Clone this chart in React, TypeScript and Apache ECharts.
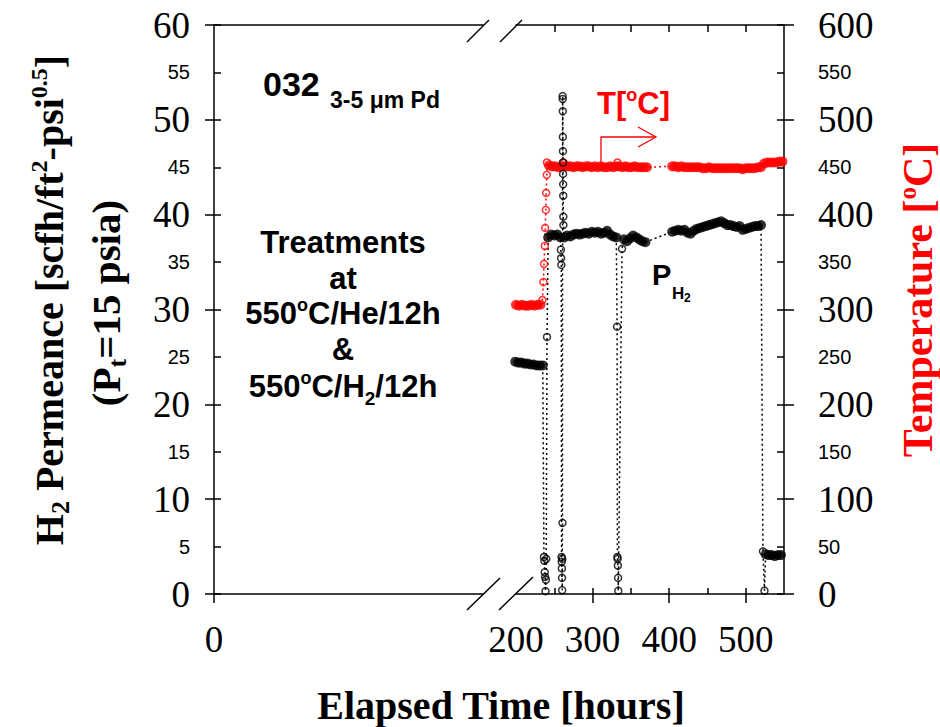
import React, { useEffect, useRef } from "react";
import * as echarts from "echarts";

// ---------------- data ----------------
// H2 permeance, steady readings: elapsed time [h] and permeance [scfh/ft2-psi^0.5]
const h2SteadyHours = [
  199, 203, 207, 211, 215, 219, 223, 227, 231, 235,
  242, 246, 250, 254, 258,
  263, 267, 271, 275, 279, 283, 287, 291, 295, 299, 303, 307, 311, 315, 319, 323, 327, 331,
  341, 345, 349, 353, 357, 361, 365, 369,
  404, 408, 412, 416, 420, 424, 428, 432, 436, 440, 444, 448, 452, 456, 460, 464, 468, 472, 476, 480,
  484, 488, 492, 496, 500, 504, 508, 512, 516, 520,
  526, 530, 534, 538, 542, 546,
];
const h2SteadyPerm = [
  24.5, 24.4, 24.4, 24.3, 24.3, 24.2, 24.2, 24.1, 24.1, 24.1,
  37.6, 37.9, 37.8, 37.9, 37.6,
  37.6, 37.8, 37.7, 37.9, 38.0, 37.9, 38.0, 38.1, 38.0, 38.2, 38.1, 38.2, 38.0, 38.1, 38.3, 37.9, 37.7, 37.6,
  37.4, 37.2, 37.5, 37.8, 37.6, 37.4, 37.2, 37.1,
  38.2, 38.3, 38.4, 38.3, 38.4, 38.1, 38.0, 38.3, 38.5, 38.6, 38.7, 38.8, 38.9, 39.0, 39.1, 39.2, 39.3, 39.1, 38.9, 38.9,
  38.8, 38.7, 38.8, 38.4, 38.5, 38.6, 38.7, 38.8, 38.8, 38.9,
  4.2, 4.1, 4.1, 4.0, 4.1, 4.1,
];
// H2 permeance, transient readings (shut-downs and restarts)
const h2TransHours = [
  236.5, 237, 237.5, 238, 238.5, 239, 239.5, 240.5,
  258.6, 258.9, 259.2, 259.5, 259.7, 259.9, 260.1, 260.3, 260.5, 260.7,
  260.9, 261.0, 261.1, 261.2, 261.3, 261.4, 261.5, 261.6, 261.7, 261.8, 261.9,
  332, 332.4, 332.7, 333, 333.3, 333.6, 338.5,
  522.5, 524.5,
];
const h2TransPerm = [
  3.9, 3.5, 2.3, 1.8, 0.3, 1.5, 3.7, 27.1,
  36.3, 35.4, 34.7, 3.9, 3.4, 2.7, 1.7, 0.4, 3.7, 7.5,
  52.5, 52.2, 50.9, 48.2, 46.7, 45.5, 44.3, 43.2, 42.0, 39.8, 38.9,
  28.2, 3.9, 3.7, 3.0, 1.7, 0.35, 36.4,
  4.5, 0.35,
];
// Temperature, steady readings: elapsed time [h] and T [°C]
const tSteadyHours = [
  200, 204, 208, 212, 216, 220, 224, 228, 232,
  243, 247, 251, 255, 259, 263, 267, 271, 275, 279, 283, 287, 291, 295, 299, 303, 307, 311, 315, 319,
  323, 327, 331, 335, 339, 343, 347, 351, 355, 359, 363, 367, 371,
  404, 408, 412, 416, 420, 424, 428, 432, 436, 440, 444, 448, 452, 456, 460, 464, 468, 472, 476, 480,
  484, 488, 492, 496, 500, 504, 508, 512, 516, 520,
  524, 528, 532, 536, 540, 544, 548,
];
const tSteadyTemp = [
  305, 304, 305, 304, 304, 305, 304, 305, 305,
  452, 451, 451, 450, 451, 451, 451, 451, 450, 451, 451, 450, 451, 451, 450, 451, 450, 451, 450, 450,
  451, 450, 451, 451, 450, 451, 450, 450, 451, 450, 450, 450, 450,
  451, 451, 450, 451, 450, 450, 450, 450, 450, 450, 449, 449, 450, 449, 449, 449, 449, 449, 449, 449,
  449, 449, 449, 448, 449, 449, 449, 449, 450, 450,
  454, 455, 455, 455, 455, 456, 456,
];
// Temperature, transient readings (heating ramp and spikes)
const tTransHours = [234.5, 235.8, 236.6, 237.6, 238.1, 239, 239.3, 240.2, 240.4, 262, 332.5];
const tTransTemp = [310, 329, 348, 367, 386, 405, 423, 442, 455, 455, 455];

// tick labels
const xLabelsLeft = [0];
const xLabelsRight = [200, 300, 400, 500];
const xTicksMinor = [250, 300, 350, 400, 450, 500];
const xTicksMajor = [300, 400, 500];
const yLeftLabels = [0, 5, 10, 15, 20, 25, 30, 35, 40, 45, 50, 55, 60];
const yLeftMajor = [0, 10, 20, 30, 40, 50, 60];
const yRightLabels = [0, 50, 100, 150, 200, 250, 300, 350, 400, 450, 500, 550, 600];
const yRightMajor = [0, 100, 200, 300, 400, 500, 600];

const pairs = (hs: number[], vs: number[]) => hs.map((h, i) => [h, vs[i]]);
const merged = (h1: number[], v1: number[], h2: number[], v2: number[]) =>
  [...pairs(h1, v1), ...pairs(h2, v2)].sort((a, b) => a[0] - b[0]);

const SERIF = "Liberation Serif";
const SANS = "Liberation Sans";
const RED = "#ff0000";

export default function App() {
  const ref = useRef<HTMLDivElement>(null);

  useEffect(() => {
    if (!ref.current) return;
    const chart = echarts.init(ref.current, null, { renderer: "svg" });

    const line = { show: true, onZero: false, lineStyle: { color: "#000", width: 1.5 } };
    const tickStyle = { color: "#000", width: 1.5 };
    const noSplit = { show: false };

    const labelRich = {
      b: { fontFamily: SERIF, fontSize: 37, color: "#000" },
      s: { fontFamily: SANS, fontSize: 20, color: "#000" },
    };

    const option: any = {
      animation: false,
      backgroundColor: "#fff",
      textStyle: { fontFamily: SERIF, color: "#000" },
      grid: [
        { left: 214, right: 457, top: 25, bottom: 133 },
        { left: 516, right: 156, top: 25, bottom: 133 },
      ],
      xAxis: [
        {
          gridIndex: 0, type: "value", min: 0, max: 100, position: "bottom",
          axisLine: line, splitLine: noSplit,
          axisTick: { show: true, inside: false, length: 9, customValues: xLabelsLeft, lineStyle: tickStyle },
          axisLabel: { customValues: xLabelsLeft, margin: 27, fontFamily: SERIF, fontSize: 37, color: "#000" },
        },
        {
          gridIndex: 0, type: "value", min: 0, max: 100, position: "top",
          axisLine: line, splitLine: noSplit, axisTick: { show: false }, axisLabel: { show: false },
        },
        {
          gridIndex: 1, type: "value", min: 200, max: 550, position: "bottom",
          axisLine: line, splitLine: noSplit,
          axisTick: { show: true, inside: true, length: 6, customValues: xTicksMinor, lineStyle: tickStyle },
          axisLabel: { customValues: xLabelsRight, margin: 27, fontFamily: SERIF, fontSize: 37, color: "#000" },
        },
        {
          gridIndex: 1, type: "value", min: 200, max: 550, position: "bottom",
          axisLine: { show: false, onZero: false }, splitLine: noSplit,
          axisTick: { show: true, inside: false, length: 9, customValues: xTicksMajor, lineStyle: tickStyle },
          axisLabel: { show: false },
        },
        {
          gridIndex: 1, type: "value", min: 200, max: 550, position: "top",
          axisLine: line, splitLine: noSplit,
          axisTick: { show: true, inside: true, length: 7, customValues: xTicksMinor, lineStyle: tickStyle },
          axisLabel: { show: false },
        },
      ],
      yAxis: [
        {
          gridIndex: 0, type: "value", min: 0, max: 60, position: "left",
          axisLine: line, splitLine: noSplit,
          axisTick: { show: true, inside: true, length: 7, customValues: yLeftLabels, lineStyle: tickStyle },
          axisLabel: {
            customValues: yLeftLabels, margin: 24,
            formatter: (v: number) => (v % 10 === 0 ? `{b|${v}}` : `{s|${v}}`),
            rich: labelRich,
          },
        },
        {
          gridIndex: 0, type: "value", min: 0, max: 60, position: "left",
          axisLine: { show: false, onZero: false }, splitLine: noSplit,
          axisTick: { show: true, inside: false, length: 9, customValues: yLeftMajor, lineStyle: tickStyle },
          axisLabel: { show: false },
        },
        { gridIndex: 1, type: "value", min: 0, max: 60, position: "left", show: false, splitLine: noSplit },
        {
          gridIndex: 1, type: "value", min: 0, max: 600, position: "right",
          axisLine: line, splitLine: noSplit,
          axisTick: { show: true, inside: true, length: 7, customValues: yRightLabels, lineStyle: tickStyle },
          axisLabel: {
            customValues: yRightLabels, margin: 34,
            formatter: (v: number) => (v % 100 === 0 ? `{b|${v}}` : `{s|${v}}`),
            rich: labelRich,
          },
        },
        {
          gridIndex: 1, type: "value", min: 0, max: 600, position: "right",
          axisLine: { show: false, onZero: false }, splitLine: noSplit,
          axisTick: { show: true, inside: false, length: 10, customValues: yRightMajor, lineStyle: tickStyle },
          axisLabel: { show: false },
        },
      ],
      series: [
        {
          type: "line", xAxisIndex: 2, yAxisIndex: 3, clip: false, symbol: "none",
          data: merged(tSteadyHours, tSteadyTemp, tTransHours, tTransTemp),
          lineStyle: { color: RED, width: 1.5, type: [2, 3] }, z: 2,
        },
        {
          type: "line", xAxisIndex: 2, yAxisIndex: 2, clip: false, symbol: "none",
          data: merged(h2SteadyHours, h2SteadyPerm, h2TransHours, h2TransPerm),
          lineStyle: { color: "#000", width: 1.5, type: [2, 3] }, z: 2,
        },
        {
          type: "scatter", xAxisIndex: 2, yAxisIndex: 3, clip: false, symbol: "circle", symbolSize: 10,
          data: pairs(tSteadyHours, tSteadyTemp), itemStyle: { color: RED }, z: 3,
        },
        {
          type: "scatter", xAxisIndex: 2, yAxisIndex: 2, clip: false, symbol: "circle", symbolSize: 10,
          data: pairs(h2SteadyHours, h2SteadyPerm), itemStyle: { color: "#000" }, z: 3,
        },
        {
          type: "scatter", xAxisIndex: 2, yAxisIndex: 3, clip: false, symbol: "circle", symbolSize: 7,
          data: pairs(tTransHours, tTransTemp),
          itemStyle: { color: "rgba(255,255,255,0)", borderColor: RED, borderWidth: 1.5 }, z: 4,
        },
        {
          type: "scatter", xAxisIndex: 2, yAxisIndex: 2, clip: false, symbol: "circle", symbolSize: 7,
          data: pairs(h2TransHours, h2TransPerm),
          itemStyle: { color: "rgba(255,255,255,0)", borderColor: "#000", borderWidth: 1.5 }, z: 4,
        },
      ],
      graphic: [
        // axis break marks
        { type: "line", shape: { x1: 467, y1: 42, x2: 489, y2: 20 }, style: { stroke: "#000", lineWidth: 1.5 } },
        { type: "line", shape: { x1: 500, y1: 42, x2: 522, y2: 20 }, style: { stroke: "#000", lineWidth: 1.5 } },
        { type: "line", shape: { x1: 467, y1: 610, x2: 500, y2: 578 }, style: { stroke: "#000", lineWidth: 1.5 } },
        { type: "line", shape: { x1: 499, y1: 610, x2: 533, y2: 577 }, style: { stroke: "#000", lineWidth: 1.5 } },
        // temperature arrow
        { type: "polyline", shape: { points: [[601, 163], [601, 137], [655, 137]] }, style: { stroke: RED, lineWidth: 1.3, fill: null } },
        { type: "polyline", shape: { points: [[638, 127], [656, 137], [638, 147]] }, style: { stroke: RED, lineWidth: 1.3, fill: null } },
        // annotations
        {
          type: "text", x: 263, y: 84,
          style: { text: "032", fontFamily: SANS, fontWeight: "bold", fontSize: 34, fill: "#000", align: "left", verticalAlign: "middle" },
        },
        {
          type: "text", x: 330, y: 100,
          style: { text: "3-5 \u03bcm Pd", fontFamily: SANS, fontWeight: "bold", fontSize: 23, fill: "#000", align: "left", verticalAlign: "middle" },
        },
        {
          type: "text", x: 597, y: 103,
          style: {
            text: "T[{sup|o}C]", fontFamily: SANS, fontWeight: "bold", fontSize: 31, lineHeight: 34, fill: RED,
            align: "left", verticalAlign: "middle",
            rich: { sup: { fontFamily: SANS, fontWeight: "bold", fontSize: 18, lineHeight: 18, verticalAlign: "top", fill: RED } },
          },
        },
        {
          type: "text", x: 652, y: 275,
          style: { text: "P", fontFamily: SANS, fontWeight: "bold", fontSize: 29, fill: "#000", align: "left", verticalAlign: "middle" },
        },
        {
          type: "text", x: 672, y: 293,
          style: { text: "H", fontFamily: SANS, fontWeight: "bold", fontSize: 17, fill: "#000", align: "left", verticalAlign: "middle" },
        },
        {
          type: "text", x: 684, y: 298,
          style: { text: "2", fontFamily: SANS, fontWeight: "bold", fontSize: 12, fill: "#000", align: "left", verticalAlign: "middle" },
        },
        ...[
          ["Treatments", 242],
          ["at", 278],
          ["550{sup|o}C/He/12h", 313],
          ["&", 349],
          ["550{sup|o}C/H{sub|2}/12h", 386],
        ].map(([t, y]) => ({
          type: "text", x: 343, y,
          style: {
            text: t, fontFamily: SANS, fontWeight: "bold", fontSize: 31, lineHeight: 34, fill: "#000",
            align: "center", verticalAlign: "middle",
            rich: {
              sup: { fontFamily: SANS, fontWeight: "bold", fontSize: 18, lineHeight: 18, verticalAlign: "top", fill: "#000" },
              sub: { fontFamily: SANS, fontWeight: "bold", fontSize: 19, lineHeight: 19, padding: [20, 0, 0, 0], verticalAlign: "top", fill: "#000" },
            },
          },
        })),
        // axis titles
        {
          type: "text", x: 501, y: 705,
          style: { text: "Elapsed Time [hours]", fontFamily: SERIF, fontWeight: "bold", fontSize: 40, fill: "#000", align: "center", verticalAlign: "middle" },
        },
        {
          type: "text", x: 49, y: 300, rotation: Math.PI / 2,
          style: {
            text: "H{sub|2} Permeance [scfh/ft{sup|2}-psi{sup|0.5}]",
            fontFamily: SERIF, fontWeight: "bold", fontSize: 40, lineHeight: 44, fill: "#000",
            align: "center", verticalAlign: "middle",
            rich: {
              sup: { fontFamily: SERIF, fontWeight: "bold", fontSize: 24, lineHeight: 24, verticalAlign: "top", fill: "#000" },
              sub: { fontFamily: SERIF, fontWeight: "bold", fontSize: 26, lineHeight: 26, padding: [20, 0, 0, 0], verticalAlign: "top", fill: "#000" },
            },
          },
        },
        {
          type: "text", x: 106, y: 303, rotation: Math.PI / 2,
          style: {
            text: "(P{sub|t}=15 psia)",
            fontFamily: SERIF, fontWeight: "bold", fontSize: 41, lineHeight: 44, fill: "#000",
            align: "center", verticalAlign: "middle",
            rich: {
              sub: { fontFamily: SERIF, fontWeight: "bold", fontSize: 26, lineHeight: 26, padding: [20, 0, 0, 0], verticalAlign: "top", fill: "#000" },
            },
          },
        },
        {
          type: "text", x: 918, y: 300, rotation: Math.PI / 2,
          style: {
            text: "Temperature [{sup|o}C]",
            fontFamily: SERIF, fontWeight: "bold", fontSize: 42, lineHeight: 46, fill: RED,
            align: "center", verticalAlign: "middle",
            rich: {
              sup: { fontFamily: SERIF, fontWeight: "bold", fontSize: 25, lineHeight: 25, verticalAlign: "top", fill: RED },
            },
          },
        },
      ],
    };

    chart.setOption(option);
    return () => chart.dispose();
  }, []);

  return (
    <div
      ref={ref}
      style={{ position: "absolute", left: 0, top: 0, width: 940, height: 727, background: "#fff" }}
    />
  );
}
